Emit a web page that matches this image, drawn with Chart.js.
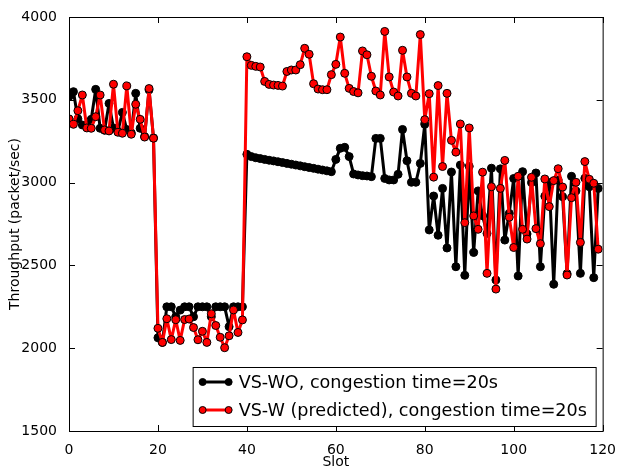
<!DOCTYPE html>
<html>
<head>
<meta charset="utf-8">
<script src="https://cdn.jsdelivr.net/npm/chart.js@4.4.1/dist/chart.umd.min.js"></script>
<style>
  body { margin: 0; background: #fff; }
  canvas { display: block; }
</style>
</head>
<body>
<canvas id="throughput_chart" width="619" height="472"></canvas>
<script>
// slot numbers 0..119
const slots = Array.from({ length: 120 }, (_, i) => i);
const xTicks = [0, 20, 40, 60, 80, 100, 120];
const yTicks = [1500, 2000, 2500, 3000, 3500, 4000];

const seriesLabels = ["VS-WO, congestion time=20s", "VS-W (predicted), congestion time=20s"];

// VS-WO (black)
const vsWithout = [
  3520, 3549, 3385, 3348, 3346, 3382, 3563, 3328, 3316, 3478,
  3330, 3310, 3424, 3320, 3300, 3539, 3328, 3278, 3560, 3270,
  2063, 2035, 2250, 2250, 2190, 2230, 2250, 2250, 2190, 2250,
  2250, 2250, 2190, 2250, 2250, 2250, 2130, 2250, 2250, 2250,
  3171, 3157, 3150, 3145, 3140, 3135, 3131, 3126, 3121, 3116,
  3111, 3106, 3101, 3096, 3091, 3086, 3081, 3076, 3071, 3066,
  3140, 3207, 3213, 3157, 3052, 3046, 3042, 3040, 3036, 3267,
  3267, 3025, 3016, 3016, 3050, 3321, 3132, 3002, 3002, 3116,
  3352, 2714, 2919, 2682, 2965, 2605, 3064, 2492, 3106, 2440,
  3098, 2578, 2950, 2800, 2693, 3087, 2412, 3083, 2653, 2814,
  3025, 2436, 3066, 2690, 3000, 3058, 2492, 2918, 3000, 2386,
  3016, 2915, 2450, 3038, 2950, 2452, 3026, 2975, 2426, 2965
];

// VS-W predicted (red)
const vsWith = [
  3385, 3352, 3434, 3529, 3330, 3328, 3398, 3529, 3318, 3312,
  3594, 3304, 3298, 3584, 3292, 3473, 3382, 3275, 3568, 3268,
  2120, 2035, 2178, 2052, 2172, 2047, 2173, 2176, 2125, 2051,
  2102, 2035, 2208, 2137, 2066, 2003, 2075, 2231, 2095, 2171,
  3760, 3708, 3702, 3698, 3611, 3593, 3589, 3587, 3583, 3671,
  3680, 3680, 3712, 3811, 3775, 3597, 3565, 3561, 3561, 3652,
  3714, 3879, 3660, 3569, 3550, 3542, 3795, 3772, 3642, 3553,
  3529, 3913, 3638, 3547, 3523, 3799, 3638, 3539, 3523, 3894,
  3380, 3537, 3033, 3586, 3097, 3539, 3255, 3184, 3354, 2758,
  3330, 2799, 2718, 3063, 2452, 2975, 2357, 2965, 3134, 2791,
  2608, 3038, 2718, 2659, 3032, 2722, 2631, 3022, 2855, 3012,
  3084, 2973, 2442, 2909, 3002, 2639, 3127, 3020, 2996, 2598
];

const FONT = "DejaVu Sans";

// axes frame with inward ticks on all four sides
const frameTicks = {
  id: "frameTicks",
  afterDatasetsDraw(chart) {
    const { ctx, chartArea: a, scales } = chart;
    const len = 6;
    ctx.save();
    ctx.strokeStyle = "#000";
    ctx.lineWidth = 1;
    ctx.strokeRect(a.left + 0.5, a.top + 0.5, a.right - a.left, a.bottom - a.top);
    ctx.beginPath();
    xTicks.forEach((v) => {
      const x = Math.round(scales.x.getPixelForValue(v)) + 0.5;
      ctx.moveTo(x, a.bottom);
      ctx.lineTo(x, a.bottom - len);
      ctx.moveTo(x, a.top);
      ctx.lineTo(x, a.top + len);
    });
    yTicks.forEach((v) => {
      const y = Math.round(scales.y.getPixelForValue(v)) + 0.5;
      ctx.moveTo(a.left, y);
      ctx.lineTo(a.left + len, y);
      ctx.moveTo(a.right, y);
      ctx.lineTo(a.right - len, y);
    });
    ctx.stroke();
    ctx.restore();
  },
};

// legend box in the lower right of the plot
const legendBox = {
  id: "legendBox",
  afterDraw(chart) {
    const { ctx, chartArea: a } = chart;
    const w = 403, h = 59;
    const right = a.right - 7, bottom = a.bottom - 5;
    const left = right - w, top = bottom - h;
    ctx.save();
    ctx.fillStyle = "#fff";
    ctx.fillRect(left, top, w, h);
    ctx.strokeStyle = "#000";
    ctx.lineWidth = 1;
    ctx.strokeRect(left + 0.5, top + 0.5, w, h);
    chart.data.datasets.forEach((ds, i) => {
      const y = top + 15 + i * 28;
      ctx.strokeStyle = ds.borderColor;
      ctx.lineWidth = 3;
      ctx.beginPath();
      ctx.moveTo(left + 10, y);
      ctx.lineTo(left + 36, y);
      ctx.stroke();
      [left + 10, left + 36].forEach((px) => {
        ctx.beginPath();
        ctx.arc(px, y, 3.5, 0, Math.PI * 2);
        ctx.fillStyle = ds.pointBackgroundColor;
        ctx.fill();
        ctx.lineWidth = 1;
        ctx.strokeStyle = "#000";
        ctx.stroke();
      });
      ctx.fillStyle = "#000";
      ctx.font = "17.6px '" + FONT + "'";
      ctx.textBaseline = "middle";
      ctx.fillText(ds.label, left + 46, y + 1);
    });
    ctx.restore();
  },
};

document.addEventListener("DOMContentLoaded", () => {
  const ctx = document.getElementById("throughput_chart").getContext("2d");

  new Chart(ctx, {
    type: "line",
    data: {
      datasets: [
        {
          label: seriesLabels[0],
          data: slots.map((s, i) => ({ x: s, y: vsWithout[i] })),
          borderColor: "#000000",
          backgroundColor: "#000000",
          pointBackgroundColor: "#000000",
          pointBorderColor: "#000000",
          order: 1,
        },
        {
          label: seriesLabels[1],
          data: slots.map((s, i) => ({ x: s, y: vsWith[i] })),
          borderColor: "#ff0000",
          backgroundColor: "#ff0000",
          pointBackgroundColor: "#ff0000",
          pointBorderColor: "#000000",
          order: 0,
        },
      ],
    },
    options: {
      responsive: false,
      animation: false,
      layout: { padding: { top: 17, right: 16, left: 0, bottom: 0 } },
      elements: {
        line: { borderWidth: 3, tension: 0, borderJoinStyle: "round", borderCapStyle: "round" },
        point: { radius: 4, borderWidth: 1, hoverRadius: 4 },
      },
      plugins: {
        legend: { display: false },
        tooltip: { enabled: false },
      },
      scales: {
        x: {
          type: "linear",
          min: 0,
          max: 120,
          afterBuildTicks: (axis) => { axis.ticks = xTicks.map((v) => ({ value: v })); },
          afterFit: (scale) => { scale.height = 41; },
          grid: { display: false },
          border: { display: false },
          ticks: { color: "#000", font: { family: FONT, size: 14 }, padding: 3, maxRotation: 0, callback: (v) => String(v) },
          title: { display: true, text: "Slot", color: "#000", font: { family: FONT, size: 14 }, padding: { top: 0, bottom: 1 } },
        },
        y: {
          min: 1500,
          max: 4000,
          afterBuildTicks: (axis) => { axis.ticks = yTicks.map((v) => ({ value: v })); },
          afterFit: (scale) => { scale.width = 69; },
          grid: { display: false },
          border: { display: false },
          ticks: { color: "#000", font: { family: FONT, size: 14 }, padding: 4, callback: (v) => String(v) },
          title: { display: true, text: "Throughput (packet/sec)", color: "#000", font: { family: FONT, size: 14 }, padding: { top: 7, bottom: 0 } },
        },
      },
    },
    plugins: [frameTicks, legendBox],
  });
});
</script>
</body>
</html>
